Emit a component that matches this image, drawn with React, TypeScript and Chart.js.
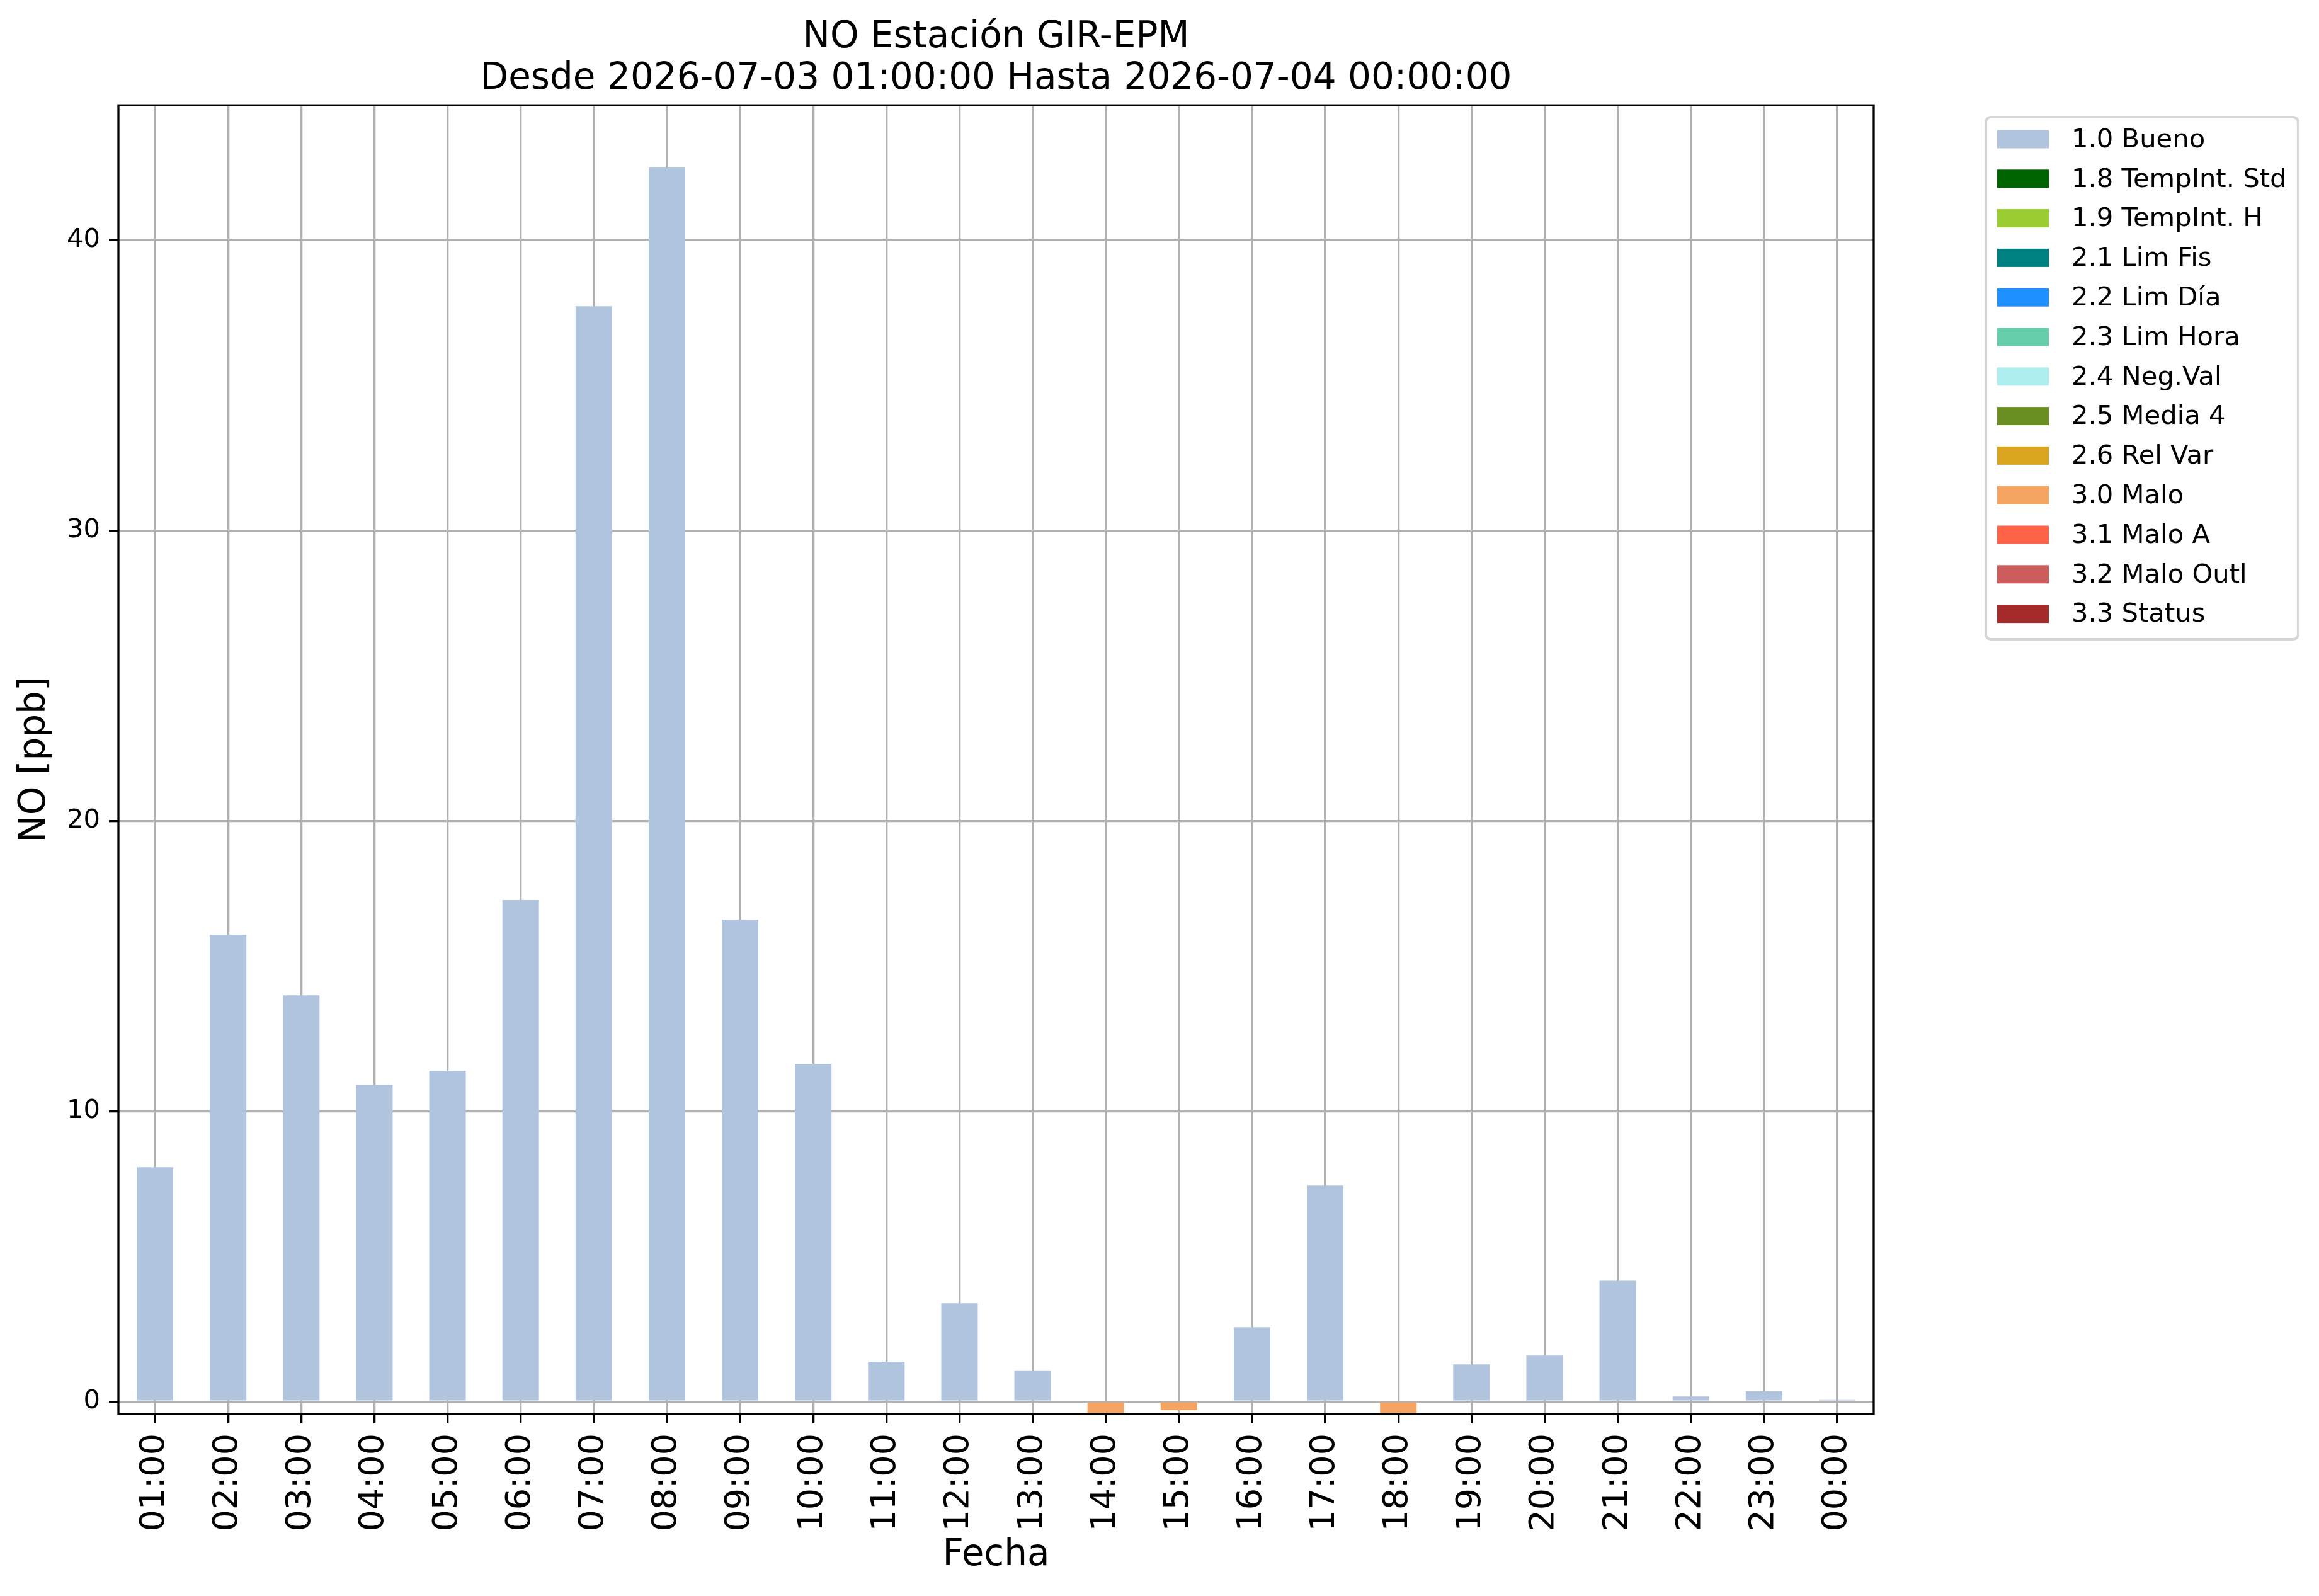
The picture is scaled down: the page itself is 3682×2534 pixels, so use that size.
import React, { useEffect, useRef } from 'react';
import { Chart, registerables } from 'chart.js';

Chart.register(...registerables);
Chart.defaults.font.family = 'DejaVu Sans';

// horas del día
const hours = [
  '01:00', '02:00', '03:00', '04:00', '05:00', '06:00', '07:00', '08:00',
  '09:00', '10:00', '11:00', '12:00', '13:00', '14:00', '15:00', '16:00',
  '17:00', '18:00', '19:00', '20:00', '21:00', '22:00', '23:00', '00:00',
];

// banderas de calidad
const flagLabels = [
  '1.0 Bueno', '1.8 TempInt. Std', '1.9 TempInt. H', '2.1 Lim Fis', '2.2 Lim Día',
  '2.3 Lim Hora', '2.4 Neg.Val', '2.5 Media 4', '2.6 Rel Var', '3.0 Malo',
  '3.1 Malo A', '3.2 Malo Outl', '3.3 Status',
];
const flagColors = [
  '#B0C4DE', '#006400', '#9ACD32', '#008080', '#1E90FF',
  '#66CDAA', '#AFEEEE', '#6B8E23', '#DAA520', '#F4A460',
  '#FF6347', '#CD5C5C', '#A52A2A',
];

// valores NO [ppb]
const bueno = [
  8.07, 16.07, 13.99, 10.91, 11.39, 17.27, 37.72, 42.52, 16.59, 11.63, 1.37, 3.38,
  1.07, null, null, 2.56, 7.44, null, 1.28, 1.58, 4.16, 0.17, 0.35, 0.05,
];
const malo = [
  null, null, null, null, null, null, null, null, null, null, null, null,
  null, -0.5, -0.3, null, null, -0.5, null, null, null, null, null, null,
];

const yTicks = [0, 10, 20, 30, 40];
const yMin = -0.43;
const yMax = 44.64;

const seriesByFlag: Record<string, (number | null)[]> = {
  '1.0 Bueno': bueno,
  '3.0 Malo': malo,
};

const W = 3682;
const H = 2534;

const App: React.FC = () => {
  const chartRef = useRef<HTMLCanvasElement>(null);
  const chartInstance = useRef<Chart | null>(null);

  useEffect(() => {
    document.body.style.margin = '0';
    document.body.style.overflow = 'hidden';
    if (!chartRef.current) return;
    if (chartInstance.current) chartInstance.current.destroy();

    // marco completo del área de datos
    const framePlugin = {
      id: 'frame',
      afterDraw: (chart: any) => {
        const { ctx, chartArea: a } = chart;
        ctx.save();
        ctx.strokeStyle = '#000';
        ctx.lineWidth = 3.3;
        ctx.strokeRect(a.left, a.top, a.right - a.left, a.bottom - a.top);
        ctx.restore();
      },
    };

    // leyenda a la derecha, estilo matplotlib
    const legendPlugin = {
      id: 'sideLegend',
      afterDraw: (chart: any) => {
        const { ctx } = chart;
        const box = { x: 3153, y: 186, w: 496, h: 829, r: 8 };
        ctx.save();
        ctx.beginPath();
        ctx.roundRect(box.x, box.y, box.w, box.h, box.r);
        ctx.fillStyle = 'rgba(255,255,255,0.8)';
        ctx.fill();
        ctx.strokeStyle = 'rgba(204,204,204,0.8)';
        ctx.lineWidth = 4.2;
        ctx.stroke();
        ctx.font = '41.7px "DejaVu Sans"';
        ctx.textBaseline = 'middle';
        ctx.textAlign = 'left';
        chart.data.datasets.forEach((ds: any, i: number) => {
          const cy = 221 + i * 62.8;
          ctx.fillStyle = ds.backgroundColor;
          ctx.fillRect(3171, cy - 14.5, 82, 29);
          ctx.fillStyle = '#000';
          ctx.fillText(ds.label, 3289, cy + 2);
        });
        ctx.restore();
      },
    };

    chartInstance.current = new Chart(chartRef.current, {
      type: 'bar',
      data: {
        labels: hours,
        datasets: flagLabels.map((label, i) => ({
          label,
          data: seriesByFlag[label] || hours.map(() => null),
          backgroundColor: flagColors[i],
          borderWidth: 0,
          barPercentage: 0.5,
          categoryPercentage: 1.0,
        })),
      },
      options: {
        animation: false,
        responsive: true,
        maintainAspectRatio: false,
        devicePixelRatio: 1,
        layout: { padding: { left: 0, right: 707, top: 0, bottom: 0 } },
        plugins: {
          legend: { display: false },
          tooltip: { enabled: false },
          title: {
            display: true,
            fullSize: false,
            text: ['NO Estación GIR-EPM', 'Desde 2026-07-03 01:00:00 Hasta 2026-07-04 00:00:00'],
            color: '#000',
            font: { size: 58, weight: 'normal', lineHeight: 1.14 },
            padding: { top: 27, bottom: 8 },
          },
        },
        scales: {
          x: {
            stacked: true,
            offset: true,
            z: 1,
            afterFit: (s: any) => { s.height = 289; },
            grid: {
              offset: false,
              color: '#b0b0b0',
              lineWidth: 3.3,
              tickColor: '#000',
              tickLength: 15,
              tickWidth: 3.3,
            },
            border: { display: false },
            ticks: {
              color: '#000',
              font: { size: 54 },
              minRotation: 90,
              maxRotation: 90,
              autoSkip: false,
              padding: 16,
            },
            title: {
              display: true,
              text: 'Fecha',
              color: '#000',
              font: { size: 58 },
              padding: { top: 0, bottom: 29 },
            },
          },
          y: {
            stacked: true,
            min: yMin,
            max: yMax,
            z: 1,
            afterFit: (s: any) => { s.width = 188; },
            afterBuildTicks: (s: any) => { s.ticks = yTicks.map((v) => ({ value: v })); },
            grid: {
              color: '#b0b0b0',
              lineWidth: 3.3,
              tickColor: '#000',
              tickLength: 15,
              tickWidth: 3.3,
            },
            border: { display: false },
            ticks: {
              color: '#000',
              font: { size: 41.7 },
              padding: 14,
              callback: (v: any) => String(v),
            },
            title: {
              display: true,
              text: 'NO [ppb]',
              color: '#000',
              font: { size: 58 },
              padding: { top: 21, bottom: 0 },
            },
          },
        },
      } as any,
      plugins: [framePlugin, legendPlugin],
    });

    return () => {
      if (chartInstance.current) {
        chartInstance.current.destroy();
        chartInstance.current = null;
      }
    };
  }, []);

  return (
    <div style={{ position: 'relative', width: `${W}px`, height: `${H}px`, background: '#fff' }}>
      <canvas ref={chartRef}></canvas>
    </div>
  );
};

export default App;
